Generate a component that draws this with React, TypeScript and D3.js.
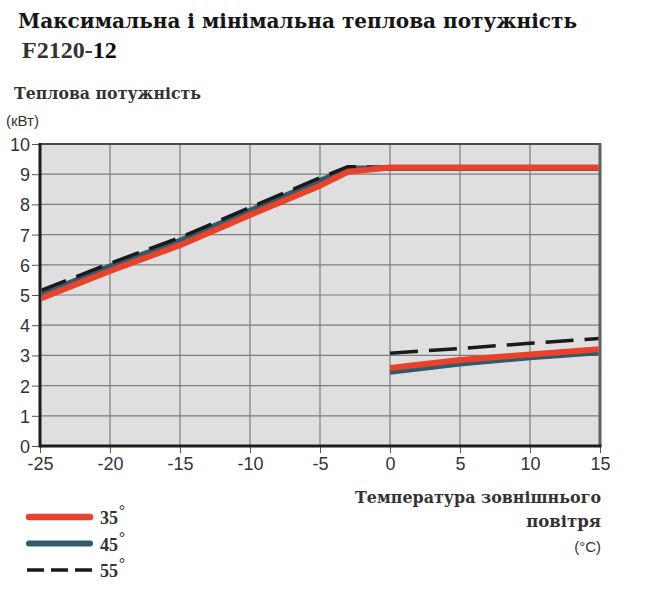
import React, { useRef, useEffect } from 'react';
import * as d3 from 'd3';

// outdoor temperature (°C) and heat output (kW)
const tempsMax = [-25, -20, -15, -10, -5, -3, 0, 15];
const max35 = [4.88, 5.8, 6.65, 7.65, 8.62, 9.08, 9.22, 9.22];
const max45 = [5.0, 5.95, 6.8, 7.8, 8.78, 9.2, 9.2, 9.2];
const max55 = [5.14, 6.05, 6.9, 7.9, 8.88, 9.25, 9.22, 9.2];

const tempsMin = [0, 5, 10, 15];
const min35 = [2.58, 2.85, 3.03, 3.21];
const min45 = [2.45, 2.72, 2.93, 3.1];
const min55 = [3.07, 3.23, 3.4, 3.56];

const xTicks = [-25, -20, -15, -10, -5, 0, 5, 10, 15];
const yTicks = [0, 1, 2, 3, 4, 5, 6, 7, 8, 9, 10];

const legendLabels = ['35', '45', '55'];

const RED = '#e8432a';
const BLUE = '#2f5b6e';
const BLACK = '#1a1a1a';
const DASH = '28,11';

const App: React.FC = () => {
  const svgRef = useRef<SVGSVGElement>(null);
  const width = 650;
  const height = 609;

  useEffect(() => {
    if (!svgRef.current) return;
    const svg = d3.select(svgRef.current);
    svg.selectAll('*').remove();

    const margin = { left: 40, top: 144, right: 50, bottom: 163 };
    const plotW = width - margin.left - margin.right;
    const plotH = height - margin.top - margin.bottom;

    const x = d3.scaleLinear().domain([-25, 15]).range([margin.left, margin.left + plotW]);
    const y = d3.scaleLinear().domain([0, 10]).range([margin.top + plotH, margin.top]);

    const wideSerif = '"DejaVu Serif", serif';
    const serif = '"Liberation Serif", "Times New Roman", serif';
    const sans = '"Liberation Sans", Arial, sans-serif';

    // titles
    svg.append('text')
      .attr('x', 18).attr('y', 28)
      .attr('textLength', 559).attr('lengthAdjust', 'spacingAndGlyphs')
      .style('font-family', wideSerif).style('font-size', '21px').style('font-weight', 'bold')
      .style('fill', '#151515')
      .text('Максимальна і мінімальна теплова потужність');

    const sub = svg.append('text')
      .attr('x', 22).attr('y', 58)
      .style('font-family', serif).style('font-size', '24px').style('font-weight', 'bold');
    sub.append('tspan').style('fill', '#333').text('F2120-');
    sub.append('tspan').style('fill', '#0a0a14').text('12');

    svg.append('text')
      .attr('x', 14).attr('y', 99)
      .attr('textLength', 187).attr('lengthAdjust', 'spacingAndGlyphs')
      .style('font-family', wideSerif).style('font-size', '16.5px').style('font-weight', 'bold')
      .style('fill', '#333')
      .text('Теплова потужність');

    svg.append('text')
      .attr('x', 6).attr('y', 126)
      .style('font-family', sans).style('font-size', '15px')
      .style('fill', '#333')
      .text('(кВт)');

    // background
    svg.append('rect')
      .attr('x', margin.left).attr('y', margin.top)
      .attr('width', plotW).attr('height', plotH)
      .attr('fill', '#e0dfe0');

    // grid
    svg.append('g')
      .selectAll('line')
      .data(xTicks.slice(1, -1))
      .join('line')
      .attr('x1', d => x(d)).attr('x2', d => x(d))
      .attr('y1', margin.top).attr('y2', margin.top + plotH)
      .attr('stroke', '#7d7d7d').attr('stroke-width', 1.2);

    svg.append('g')
      .selectAll('line')
      .data(yTicks.slice(1, -1))
      .join('line')
      .attr('x1', margin.left).attr('x2', margin.left + plotW)
      .attr('y1', d => y(d)).attr('y2', d => y(d))
      .attr('stroke', '#7d7d7d').attr('stroke-width', 1.2);

    // axes
    const yAxis = d3.axisLeft(y).tickValues(yTicks).tickSize(8).tickFormat(d => String(d));
    const yG = svg.append('g').attr('transform', `translate(${margin.left},0)`).call(yAxis);
    yG.select('.domain').remove();
    yG.selectAll('line').attr('stroke', '#555');
    yG.selectAll('text')
      .attr('x', -10).attr('dy', '0.36em')
      .style('font-family', sans).style('font-size', '18px').style('fill', '#333');

    const xAxis = d3.axisBottom(x).tickValues(xTicks).tickSize(7).tickFormat(d => String(d));
    const xG = svg.append('g').attr('transform', `translate(0,${margin.top + plotH})`).call(xAxis);
    xG.select('.domain').remove();
    xG.selectAll('line').attr('stroke', '#555');
    xG.selectAll('text')
      .attr('y', 24).attr('dy', 0)
      .style('font-family', sans).style('font-size', '18px').style('fill', '#333');

    // frame
    svg.append('line')
      .attr('x1', margin.left).attr('x2', margin.left + plotW)
      .attr('y1', margin.top).attr('y2', margin.top)
      .attr('stroke', '#4a4a4a').attr('stroke-width', 2);
    svg.append('line')
      .attr('x1', margin.left + plotW).attr('x2', margin.left + plotW)
      .attr('y1', margin.top - 1).attr('y2', margin.top + plotH)
      .attr('stroke', '#606060').attr('stroke-width', 3);
    svg.append('line')
      .attr('x1', margin.left).attr('x2', margin.left)
      .attr('y1', margin.top - 1).attr('y2', margin.top + plotH + 1.5)
      .attr('stroke', '#1c1c1c').attr('stroke-width', 3);
    svg.append('line')
      .attr('x1', margin.left).attr('x2', margin.left + plotW + 1.5)
      .attr('y1', margin.top + plotH).attr('y2', margin.top + plotH)
      .attr('stroke', '#1c1c1c').attr('stroke-width', 3);

    // series
    const line = d3.line<[number, number]>()
      .x(d => x(d[0]))
      .y(d => y(d[1]));

    const zip = (xs: number[], ys: number[]) => xs.map((v, i) => [v, ys[i]] as [number, number]);

    const series = [
      { temps: tempsMax, vals: max45, color: BLUE, w: 5.5, dash: null },
      { temps: tempsMax, vals: max55, color: BLACK, w: 3.5, dash: DASH },
      { temps: tempsMax, vals: max35, color: RED, w: 6, dash: null },
      { temps: tempsMin, vals: min45, color: BLUE, w: 5.5, dash: null },
      { temps: tempsMin, vals: min55, color: BLACK, w: 3.5, dash: DASH },
      { temps: tempsMin, vals: min35, color: RED, w: 6, dash: null },
    ];

    const clipId = 'plot-clip';
    svg.append('defs').append('clipPath').attr('id', clipId)
      .append('rect')
      .attr('x', margin.left + 1.5).attr('y', margin.top)
      .attr('width', plotW - 3).attr('height', plotH);

    const lines = svg.append('g').attr('clip-path', `url(#${clipId})`);
    series.forEach(s => {
      lines.append('path')
        .attr('d', line(zip(s.temps, s.vals)))
        .attr('fill', 'none')
        .attr('stroke', s.color)
        .attr('stroke-width', s.w)
        .attr('stroke-linejoin', 'round')
        .attr('stroke-dasharray', s.dash);
    });

    // x axis title
    const xTitle = svg.append('g').style('fill', '#333');
    xTitle.append('text')
      .attr('x', 601).attr('y', 503).attr('text-anchor', 'end')
      .attr('textLength', 246).attr('lengthAdjust', 'spacingAndGlyphs')
      .style('font-family', wideSerif).style('font-size', '16.5px').style('font-weight', 'bold')
      .text('Температура зовнішнього');
    xTitle.append('text')
      .attr('x', 601).attr('y', 527).attr('text-anchor', 'end')
      .style('font-family', wideSerif).style('font-size', '16.5px').style('font-weight', 'bold')
      .text('повітря');
    xTitle.append('text')
      .attr('x', 601).attr('y', 552).attr('text-anchor', 'end')
      .style('font-family', sans).style('font-size', '15px')
      .text('(°C)');

    // legend
    const legendStyles = [
      { color: RED, w: 6.5, dash: null },
      { color: BLUE, w: 6, dash: null },
      { color: BLACK, w: 3.5, dash: '17,7' },
    ];
    const legend = svg.append('g').attr('transform', 'translate(27,517)');
    legendLabels.forEach((lab, i) => {
      const g = legend.append('g').attr('transform', `translate(0,${i * 26.5})`);
      const st = legendStyles[i];
      g.append('line')
        .attr('x1', st.dash ? 0 : 2).attr('x2', st.dash ? 65 : 63)
        .attr('stroke', st.color)
        .attr('stroke-width', st.w)
        .attr('stroke-linecap', st.dash ? 'butt' : 'round')
        .attr('stroke-dasharray', st.dash);
      const t = g.append('text')
        .attr('x', 73).attr('y', 7)
        .style('font-family', serif).style('font-size', '18px').style('font-weight', 'bold')
        .style('fill', '#333');
      t.append('tspan').text(lab);
      t.append('tspan').attr('dy', -9).attr('dx', 1).style('font-size', '15px').text('°');
    });
  }, []);

  return (
    <svg
      ref={svgRef}
      width={width}
      height={height}
      style={{ position: 'absolute', left: 0, top: 0, background: '#fff' }}
    />
  );
};

export default App;
